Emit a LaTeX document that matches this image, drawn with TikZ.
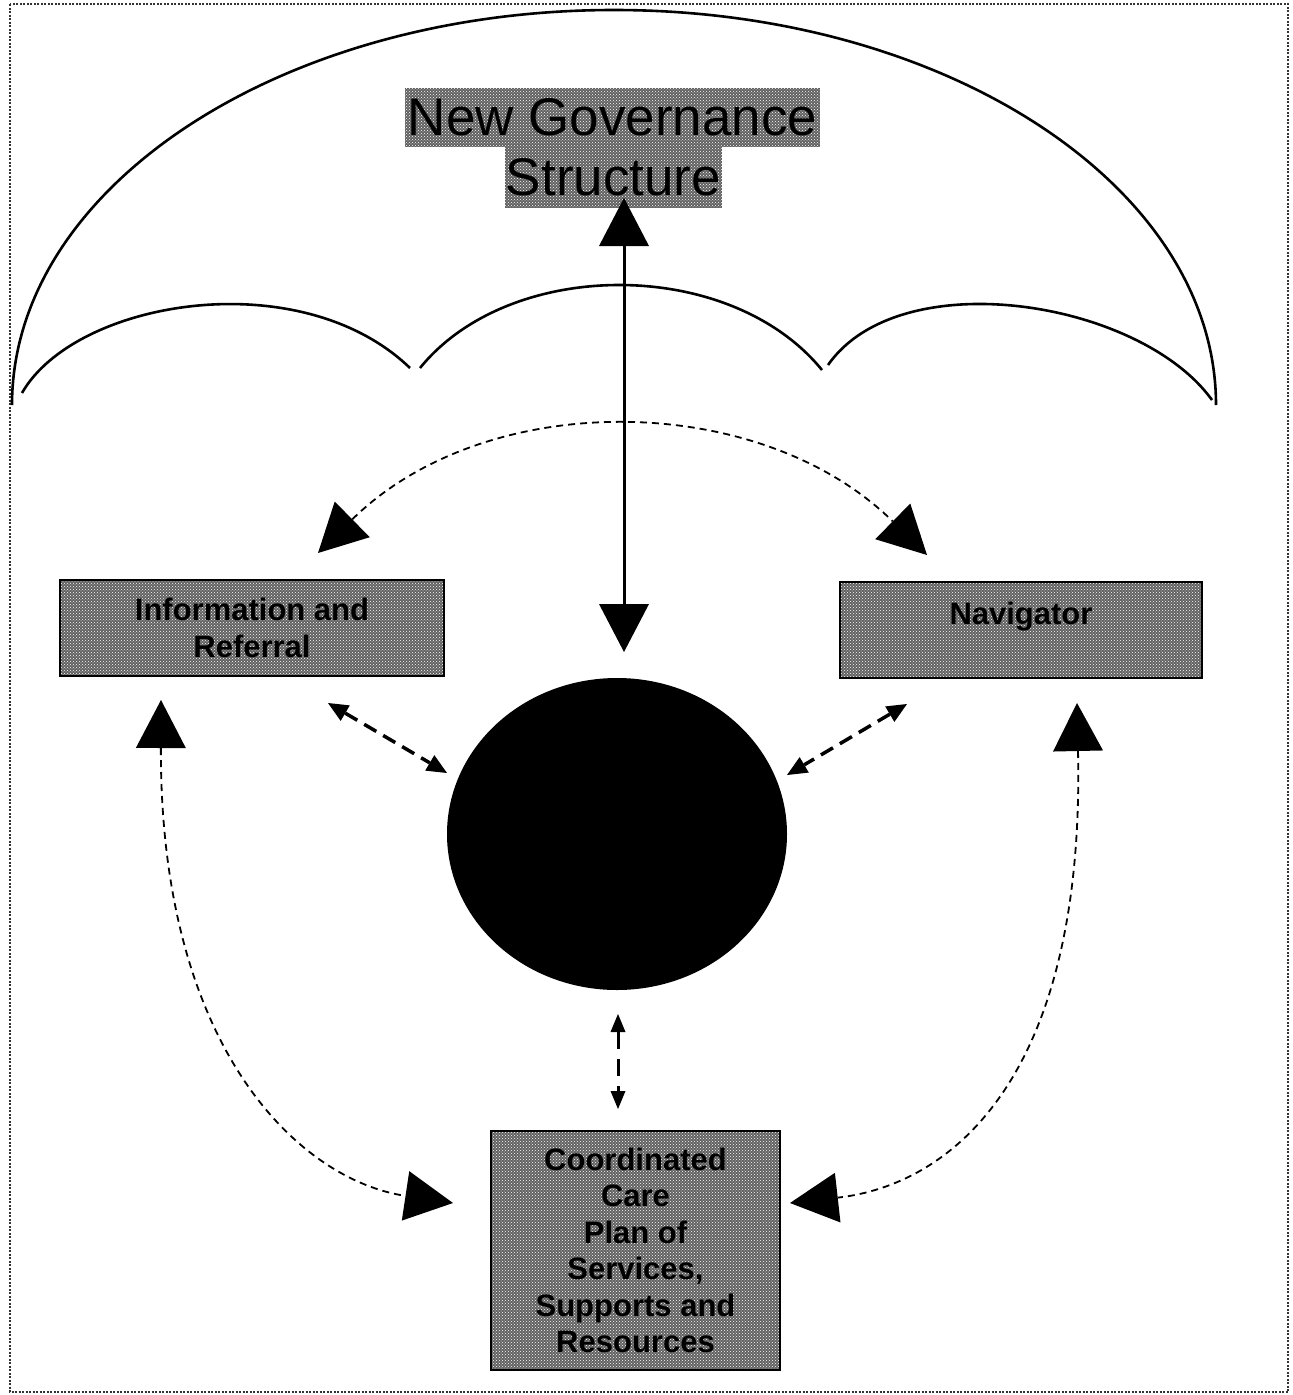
\documentclass[tikz,border=0pt]{standalone}
\usepackage{fontspec}
\setmainfont{Liberation Sans}
\usetikzlibrary{arrows.meta,shapes.geometric,patterns}
\begin{document}
\begin{tikzpicture}[x=1pt,y=-1pt,
  frameline/.style={draw=black!80,line width=2pt,dash pattern=on 2pt off 1.5pt},
  umbrella/.style={draw=black,line width=2.6pt},
  shaded/.style={preaction={fill=black!62},pattern=crosshatch dots,pattern color=white},
  govbox/.style={shaded,inner sep=0pt,font=\fontsize{53}{60}\selectfont},
  textbox/.style={shaded,draw=black,line width=2pt,inner sep=0pt,align=center,
    font=\bfseries\fontsize{31}{36.5}\selectfont},
  bigtips/.style={{Triangle[length=48pt,width=50pt,line width=0pt]}-{Triangle[length=48pt,width=50pt,line width=0pt]}},
  smalltips/.style={{Triangle[length=20pt,width=18pt,line width=0pt]}-{Triangle[length=20pt,width=18pt,line width=0pt]}},
  thindash/.style={draw=black,line width=1.8pt,dash pattern=on 7pt off 5pt},
  thickdash/.style={draw=black,line width=3.5pt,dash pattern=on 14pt off 8pt},
  solidarrow/.style={draw=black,line width=3pt}
]
\useasboundingbox (0,0) rectangle (1293,1395);
% frame
\draw[frameline] (10,4) rectangle (1288,1392);
% umbrella
\draw[umbrella] (12,405) .. controls (12,187) and (281.5,10) .. (614,10)
  .. controls (946.5,10) and (1216,187) .. (1216,405);
\draw[umbrella] (22,393) .. controls (75,300) and (300,262) .. (410,368);
\draw[umbrella] (420,368) .. controls (510,257) and (730,257) .. (822,370);
\draw[umbrella] (828,365) .. controls (900,262) and (1140,300) .. (1212,400);
% nodes
\node[govbox,minimum width=415,minimum height=59] (govA) at (612.5,117.5) {New Governance};
\node[govbox,minimum width=217,minimum height=61] (govB) at (613.5,177.5) {Structure};
\node[textbox,minimum width=384,minimum height=96] (info) at (252,628) {Information and\\Referral};
\node[textbox,minimum width=362,text height=42pt,text depth=54pt] (nav) at (1021,630) {Navigator};
\node[textbox,minimum width=289,minimum height=239] (care) at (635.5,1250.5)
  {Coordinated\\Care\\Plan of\\Services,\\Supports and\\Resources};
\node[ellipse,fill=black,minimum width=340,minimum height=312,inner sep=0pt] (hub) at (617,834) {};
% connector end points
\coordinate (vt) at (624,198);
\coordinate (vb) at (624,652);
\coordinate (lt) at (318,553);
\coordinate (rt) at (927,555);
\coordinate (il) at (161,700);
\coordinate (cl) at (453,1203);
\coordinate (nr) at (1077,703);
\coordinate (cr) at (790,1203);
\coordinate (a1) at (328,703);
\coordinate (a2) at (447,773);
\coordinate (b1) at (907,704);
\coordinate (b2) at (787,775);
\coordinate (c1) at (618,1014);
\coordinate (c2) at (618,1109);
% connectors
\draw[solidarrow,bigtips] (vt) -- (vb);
\draw[thindash,bigtips] (lt) .. controls (486,388) and (759,390) .. (rt);
\draw[thindash,bigtips] (il) .. controls (160,1050) and (300,1180) .. (cl);
\draw[thindash,bigtips] (nr) .. controls (1085,1080) and (950,1185) .. (cr);
\draw[thickdash,smalltips] (a1) -- (a2);
\draw[thickdash,smalltips] (b1) -- (b2);
\draw[draw=black,line width=3pt,dash pattern=on 17pt off 10pt,
  {Triangle[length=18pt,width=15pt,line width=0pt]}-{Triangle[length=18pt,width=15pt,line width=0pt]}] (c1) -- (c2);
\end{tikzpicture}
\end{document}
